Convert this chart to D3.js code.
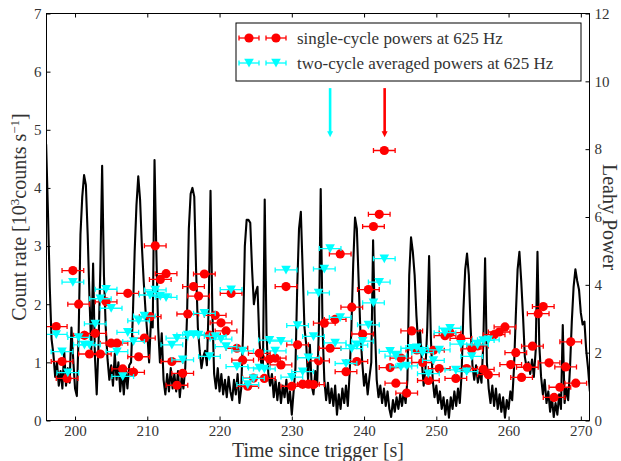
<!DOCTYPE html>
<html>
<head>
<meta charset="utf-8">
<script src="https://cdn.jsdelivr.net/npm/d3@7"></script>
<style>
body { margin: 0; background: #fff; }
svg { display: block; }
text { font-family: "Liberation Serif", "DejaVu Serif", serif; }
</style>
</head>
<body>
<script>
// light curve, 0.25 s bins starting at 196 s, in 10^3 counts/s
const lcStart = 196.0, lcStep = 0.25
const countRate = [
    4.75, 3.6, 2.3, 1.4,   1.15, 0.75, 1.0, 0.6,   0.85, 0.55, 1.2, 0.6,   0.9, 0.65, 1.6, 1.05,
    0.55, 0.42, 1.5, 3.2,  3.85, 4.22, 4.05, 3.2,  2.1, 1.2, 2.7, 1.1,     0.45, 1.3, 2.6, 4.38,
    2.5, 1.6, 1.05, 0.7,   0.95, 0.6, 1.15, 0.7,   1.0, 0.5, 0.85, 0.45,   0.9, 0.55, 0.95, 1.0,
    1.8, 2.9, 3.7, 4.2,    3.8, 3.0, 2.4, 1.9,     1.5, 1.0, 1.7, 1.6,     4.48, 2.9, 1.6, 1.0,
    1.5, 0.7, 0.45, 0.8,   0.5, 0.9, 0.55, 0.8,    0.5, 0.85, 0.4, 0.75,   0.55, 0.9, 1.8, 3.3,
    3.9, 4.0, 3.85, 2.6,   1.6, 1.2, 0.9, 1.1,     1.2, 0.95, 2.0, 3.95,   1.9, 0.8, 0.55, 0.9,
    0.5, 0.8, 0.45, 0.7,   0.4, 0.75, 0.5, 0.35,   0.7, 0.45, 0.8, 0.3,    0.55, 1.5, 3.0, 3.45,
    3.45, 3.4, 2.6, 2.0,   2.2, 2.3, 1.4, 1.0,     0.9, 3.8, 1.5, 0.8,     0.6, 0.8, 0.4, 0.7,
    0.35, 0.65, 0.3, 0.6,  0.4, 0.7, 0.3, 0.5,     0.1, 0.5, 0.9, 2.3,     3.3, 3.59, 2.6, 1.6,
    1.3, 0.7, 1.3, 0.6,    0.45, 0.85, 0.6, 1.6,   3.98, 1.6, 0.7, 0.35,   0.65, 0.3, 0.55, 0.25,
    0.6, 0.1, 0.45, 0.2,   0.55, 0.3, 0.6, 0.25,   0.8, 1.6, 2.7, 3.49,    3.3, 2.4, 1.5, 1.0,
    0.6, 0.8, 0.45, 0.75,  1.0, 3.1, 1.6, 0.7,     0.4, 0.6, 0.3, 0.55,    0.25, 0.5, 0.2, 0.06,
    0.35, 0.15, 0.4, 0.2,  0.45, 0.25, 0.5, 0.3,   0.7, 2.5, 3.15, 2.9,    2.5, 1.8, 1.3, 1.55,
    1.0, 0.6, 0.9, 1.6,    2.83, 1.4, 0.7, 0.4,    0.6, 0.3, 0.5, 0.2,     0.4, 0.1, 0.35, 0.05,
    0.4, 0.2, 0.5, 0.25,   0.55, 0.3, 0.8, 1.9,    2.6, 2.87, 2.5, 1.6,    0.95, 0.7, 0.95, 0.65,
    0.85, 0.65, 1.3, 2.79, 1.0, 0.55, 0.3, 0.6,    0.25, 0.55, 0.2, 0.45,  0.15, 0.4, 0.05, 0.35,
    0.2, 0.5, 0.35, 0.9,   1.8, 2.6, 2.9, 2.4,     1.8, 1.1, 0.9, 1.0,     0.8, 1.05, 0.75, 1.2,
    2.9, 1.3, 0.75, 0.45,  0.7, 0.3, 0.5, 0.15,    0.4, 0.06, 0.3, 0.1,    0.45, 0.2, 1.64, 0.3,
    0.55, 0.35, 0.9, 1.7,  2.3, 2.6, 2.4, 2.25,    1.85, 1.65, 1.7, 1.2,   0.9, 0.5
]

// single-cycle powers (Leahy)
const singleTime = [197.4, 198.2, 198.9, 199.7, 200.5, 201.3, 202.0, 202.8, 203.5, 204.3,
    205.0, 205.8, 206.6, 207.3, 208.1, 208.8, 209.6, 210.4, 211.1, 211.8,
    212.6, 213.4, 214.1, 214.9, 215.6, 216.4, 217.1, 217.9, 218.6, 219.4,
    220.2, 220.9, 221.6, 222.4, 223.2, 223.9, 224.7, 225.5, 226.2, 226.9,
    227.7, 228.5, 229.2, 230.0, 230.8, 231.5, 232.3, 233.0, 233.7, 234.5,
    235.3, 236.0, 236.7, 237.5, 238.3, 239.0, 239.8, 240.6, 241.3, 242.1,
    242.8, 243.6, 244.4, 245.1, 245.9, 246.6, 247.3, 248.1, 248.9, 249.6,
    250.4, 251.2, 251.9, 252.7, 253.4, 254.2, 254.9, 255.7, 256.5, 257.2,
    258.0, 258.7, 259.5, 260.3, 261.0, 261.8, 262.6, 263.3, 264.1, 264.8,
    265.6, 266.3, 267.1, 267.9, 268.6, 269.3]
const singlePower = [2.77, 1.74, 1.24, 4.42, 3.43, 2.51, 1.96, 2.57, 1.96, 3.50,
    2.28, 2.28, 1.52, 3.75, 1.42, 1.88, 2.43, 3.06, 5.15, 4.16,
    4.33, 1.74, 1.04, 1.39, 3.14, 3.95, 3.67, 4.32, 2.52, 3.10,
    2.88, 2.64, 3.75, 2.13, 1.78, 1.01, 1.25, 1.98, 1.24, 1.81,
    1.84, 1.64, 3.95, 1.01, 2.23, 1.07, 1.07, 1.06, 1.76, 2.87,
    2.13, 2.98, 4.91, 1.44, 3.34, 1.74, 2.55, 3.86, 5.72, 6.08,
    7.96, 1.56, 1.10, 1.84, 0.81, 2.64, 2.08, 1.71, 1.18, 2.07,
    1.53, 2.50, 2.59, 1.24, 2.42, 1.53, 2.11, 2.20, 1.51, 1.35,
    2.53, 2.61, 2.76, 1.65, 2.00, 1.27, 1.57, 2.19, 3.15, 3.36,
    1.70, 0.68, 0.98, 1.58, 2.32, 1.10]

// two-cycle averaged powers (Leahy)
const twoTime = [197.4, 198.2, 199.0, 199.7, 200.5, 201.3, 202.0, 202.8, 203.5, 204.3,
    205.0, 205.8, 206.6, 207.3, 208.1, 208.8, 209.6, 210.4, 211.1, 211.8,
    212.6, 213.4, 214.1, 214.9, 215.6, 216.4, 217.1, 217.9, 218.6, 219.4,
    220.2, 220.9, 221.6, 222.4, 223.2, 223.9, 224.7, 225.5, 226.2, 226.9,
    227.7, 228.5, 229.2, 230.0, 230.8, 231.5, 232.3, 233.0, 233.7, 234.5,
    235.3, 236.0, 236.7, 237.5, 238.3, 239.0, 239.8, 240.6, 241.3, 242.1,
    242.8, 243.6, 244.4, 245.1, 245.9, 246.6, 247.3, 248.1, 248.9, 249.6,
    250.4, 251.2, 251.9, 252.7, 253.4, 254.2, 254.9, 255.7, 256.5, 257.2]
const twoPower = [2.54, 2.03, 1.41, 4.08, 2.45, 2.23, 2.23, 2.85, 3.59, 3.87,
    3.31, 2.03, 1.30, 2.60, 2.33, 2.94, 3.08, 3.70, 3.85, 3.67,
    3.63, 2.23, 2.43, 1.79, 2.52, 2.54, 2.52, 3.16, 1.89, 2.48,
    2.40, 2.18, 3.86, 1.59, 2.05, 1.06, 1.24, 1.55, 1.52, 2.37,
    2.05, 2.34, 4.44, 1.28, 2.80, 1.44, 1.85, 2.48, 3.76, 4.47,
    5.07, 2.29, 3.04, 1.68, 2.12, 2.22, 2.34, 2.82, 3.47, 4.08,
    4.77, 2.04, 1.90, 1.58, 1.61, 2.13, 2.15, 2.00, 1.38, 1.77,
    2.08, 2.59, 2.72, 1.49, 2.25, 1.44, 1.89, 2.23, 2.36, 2.38]

const timeErr = 1.5
// arrows marking the strongest powers: [time, from power, to power]
const cyanArrow = [235.3, 9.8, 8.35]
const redArrow = [242.85, 9.8, 8.35]

const timeTicks = [200, 210, 220, 230, 240, 250, 260, 270]
const rateTicks = [0, 1, 2, 3, 4, 5, 6, 7]
const powerTicks = [0, 2, 4, 6, 8, 10, 12]
const legendLabels = ['single-cycle powers at 625 Hz', 'two-cycle averaged powers at 625 Hz']

const red = '#ff0000', cyan = '#00ffff'

var margin = { top: 13.5, right: 31.5, bottom: 40.5, left: 46.5 },
    totalW = 621, totalH = 461,
    width = totalW - margin.left - margin.right,
    height = totalH - margin.top - margin.bottom

var svg = d3.select('body').append('svg')
    .attr('width', totalW)
    .attr('height', totalH)

var g = svg.append('g')
    .attr('transform', 'translate(' + margin.left + ',' + margin.top + ')')

var x = d3.scaleLinear().domain([196.05, 271.2]).range([0, width])
var yRate = d3.scaleLinear().domain([0, 7]).range([height, 0])
var yPow = d3.scaleLinear().domain([0, 12]).range([height, 0])

svg.append('defs').append('clipPath').attr('id', 'plotclip')
    .append('rect').attr('width', width).attr('height', height)

// light curve
var lc = countRate.map((v, i) => [lcStart + i * lcStep, v])
var line = d3.line()
    .x(d => x(d[0]))
    .y(d => yRate(d[1]))

g.append('path')
    .datum(lc)
    .attr('clip-path', 'url(#plotclip)')
    .attr('fill', 'none')
    .attr('stroke', '#000')
    .attr('stroke-width', 2.1)
    .attr('stroke-linejoin', 'round')
    .attr('d', line)

// error bars + markers
function drawSeries(times, powers, color, shape) {
    var pts = times.map((t, i) => ({ t: t, p: powers[i] }))
    var grp = g.append('g').attr('clip-path', 'url(#plotclip)')
    var eb = grp.selectAll(null).data(pts).enter().append('g')
    eb.append('line')
        .attr('x1', d => x(d.t - timeErr)).attr('x2', d => x(d.t + timeErr))
        .attr('y1', d => yPow(d.p)).attr('y2', d => yPow(d.p))
        .attr('stroke', color).attr('stroke-width', 1.3)
    eb.append('line')
        .attr('x1', d => x(d.t - timeErr)).attr('x2', d => x(d.t - timeErr))
        .attr('y1', d => yPow(d.p) - 2.5).attr('y2', d => yPow(d.p) + 2.5)
        .attr('stroke', color).attr('stroke-width', 1.3)
    eb.append('line')
        .attr('x1', d => x(d.t + timeErr)).attr('x2', d => x(d.t + timeErr))
        .attr('y1', d => yPow(d.p) - 2.5).attr('y2', d => yPow(d.p) + 2.5)
        .attr('stroke', color).attr('stroke-width', 1.3)
    grp.selectAll(null).data(pts).enter().append('path')
        .attr('d', shape)
        .attr('transform', d => 'translate(' + x(d.t) + ',' + yPow(d.p) + ')')
        .attr('fill', color)
}
const circleShape = 'M4.6,0A4.6,4.6 0 1,1 -4.6,0A4.6,4.6 0 1,1 4.6,0Z'
const triShape = 'M0,4.6L-4.8,-4.2L4.8,-4.2Z'
drawSeries(singleTime, singlePower, red, circleShape)
drawSeries(twoTime, twoPower, cyan, triShape)

// arrows
function drawArrow(a, color) {
    var ax = x(a[0]), y0 = yPow(a[1]), y1 = yPow(a[2])
    g.append('line')
        .attr('x1', ax).attr('x2', ax).attr('y1', y0).attr('y2', y1 - 5)
        .attr('stroke', color).attr('stroke-width', 2.6)
    g.append('path')
        .attr('d', 'M' + (ax - 3) + ',' + (y1 - 6) + 'L' + (ax + 3) + ',' + (y1 - 6) + 'L' + ax + ',' + y1 + 'Z')
        .attr('fill', color)
}
drawArrow(cyanArrow, cyan)
drawArrow(redArrow, red)

// axes
var xAxis = d3.axisBottom(x).tickValues(timeTicks).tickSizeInner(-4).tickSizeOuter(0).tickPadding(5)
var xTop = d3.axisTop(x).tickValues(timeTicks).tickSizeInner(-4).tickSizeOuter(0).tickFormat('')
var yAxisL = d3.axisLeft(yRate).tickValues(rateTicks).tickFormat(d3.format('d'))
    .tickSizeInner(-4).tickSizeOuter(0).tickPadding(5)
var yAxisR = d3.axisRight(yPow).tickValues(powerTicks).tickFormat(d3.format('d'))
    .tickSizeInner(-4).tickSizeOuter(0).tickPadding(5)

function styleAxis(sel) {
    sel.select('.domain').remove()
    sel.selectAll('line').attr('stroke', '#000')
    sel.selectAll('text').attr('fill', '#333').style('font-size', '15px')
        .style('font-family', '"Liberation Serif", serif')
}

g.append('g').attr('transform', 'translate(0,' + height + ')').call(xAxis).call(styleAxis)
g.append('g').call(xTop).call(styleAxis)
g.append('g').call(yAxisL).call(styleAxis)
g.append('g').attr('transform', 'translate(' + width + ',0)').call(yAxisR).call(styleAxis)

g.append('rect')
    .attr('width', width).attr('height', height)
    .attr('fill', 'none').attr('stroke', '#000').attr('stroke-width', 1)

// axis labels
svg.append('text')
    .attr('x', margin.left + width / 2).attr('y', 457)
    .attr('text-anchor', 'middle')
    .style('font-size', '20px').attr('fill', '#333')
    .text('Time since trigger [s]')

var yl = svg.append('text')
    .attr('transform', 'translate(26,' + (margin.top + height / 2) + ') rotate(-90)')
    .attr('text-anchor', 'middle')
    .style('font-size', '20px').attr('fill', '#333')
yl.append('tspan').text('Count rate [10')
yl.append('tspan').attr('dy', -7).style('font-size', '13px').text('3')
yl.append('tspan').attr('dy', 7).text('counts s')
yl.append('tspan').attr('dy', -7).style('font-size', '13px').text('\u22121')
yl.append('tspan').attr('dy', 7).text(']')

svg.append('text')
    .attr('transform', 'translate(603,' + (margin.top + height / 2) + ') rotate(90)')
    .attr('text-anchor', 'middle')
    .style('font-size', '20px').attr('fill', '#333')
    .text('Leahy Power')

// legend
var lg = svg.append('g').attr('transform', 'translate(236,23)')
lg.append('rect').attr('width', 345).attr('height', 58)
    .attr('fill', '#fff').attr('stroke', '#000').attr('stroke-width', 1)
var legendItems = [
    { label: legendLabels[0], color: red, shape: circleShape, y: 15 },
    { label: legendLabels[1], color: cyan, shape: triShape, y: 40 }
]
legendItems.forEach(function (it) {
    [13, 40].forEach(function (cx) {
        lg.append('line').attr('x1', cx - 10).attr('x2', cx + 10).attr('y1', it.y).attr('y2', it.y)
            .attr('stroke', it.color).attr('stroke-width', 1.3)
        lg.append('line').attr('x1', cx - 10).attr('x2', cx - 10).attr('y1', it.y - 2.5).attr('y2', it.y + 2.5)
            .attr('stroke', it.color).attr('stroke-width', 1.3)
        lg.append('line').attr('x1', cx + 10).attr('x2', cx + 10).attr('y1', it.y - 2.5).attr('y2', it.y + 2.5)
            .attr('stroke', it.color).attr('stroke-width', 1.3)
        lg.append('path').attr('d', it.shape).attr('fill', it.color)
            .attr('transform', 'translate(' + cx + ',' + it.y + ')')
    })
    lg.append('text').attr('x', 61).attr('y', it.y + 5.5)
        .style('font-size', '17px').attr('fill', '#333')
        .text(it.label)
})
</script>
</body>
</html>
